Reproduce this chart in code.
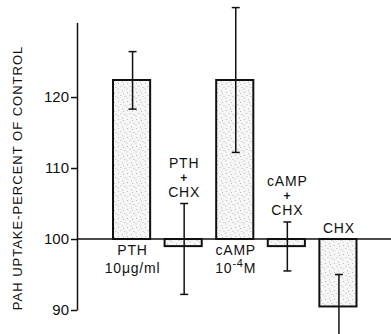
<!DOCTYPE html>
<html>
<head>
<meta charset="utf-8">
<script src="https://cdn.jsdelivr.net/npm/d3@7"></script>
<style>
  body { margin: 0; background: #fff; }
  svg text { font-family: 'Liberation Sans', Arial, sans-serif; fill: #111; }
</style>
</head>
<body>
<svg id="chart"></svg>
<script>
const width = 391,
  height = 334;

// data (percent of control)
const categories = ['PTH', 'PTH+CHX', 'cAMP', 'cAMP+CHX', 'CHX'];
const means = [122.4, 99.0, 122.4, 99.0, 90.5];
const errLow = [118.3, 92.2, 112.2, 95.5, 86];
const errHigh = [126.4, 105, 132.6, 102.4, 95];
const yTicks = [90, 100, 110, 120];
const labelsBelow = [['PTH', '10\u03bcg/ml'], null, ['cAMP', '10-4M'], null, null];
const labelsAbove = [null, ['PTH', '+', 'CHX'], null, ['cAMP', '+', 'CHX'], ['CHX']];

const svg = d3
  .select('#chart')
  .attr('width', width)
  .attr('height', height);

const yScale = d3
  .scaleLinear()
  .domain([90, 130.5])
  .range([310, 22.5]);

const xScale = d3
  .scaleBand()
  .domain(categories)
  .range([113, 356.5])
  .paddingInner(0.28)
  .paddingOuter(0);

// stipple fill
const pat = svg
  .append('defs')
  .append('pattern')
  .attr('id', 'stipple')
  .attr('patternUnits', 'userSpaceOnUse')
  .attr('width', 9)
  .attr('height', 9);
pat.append('rect').attr('width', 9).attr('height', 9).attr('fill', '#f6f6f6');
[[1, 2], [5, 0.5], [3.5, 5], [7.5, 6], [0.5, 7.5], [6, 3]].forEach(p => {
  pat
    .append('rect')
    .attr('x', p[0])
    .attr('y', p[1])
    .attr('width', 0.9)
    .attr('height', 0.9)
    .attr('fill', '#aaa');
});

const axisX = 77;

// y axis
svg
  .append('g')
  .attr('class', 'y-axis')
  .attr('transform', `translate(${axisX},0)`)
  .call(
    d3
      .axisLeft(yScale)
      .tickValues(yTicks)
      .tickSize(6)
      .tickSizeOuter(0)
      .tickPadding(2)
  )
  .call(g => g.selectAll('path, line').attr('stroke', '#111').attr('stroke-width', 1.5))
  .call(g =>
    g
      .selectAll('text')
      .attr('font-size', 15)
      .attr('fill', '#111')
      .style('font-family', "'Liberation Sans', Arial, sans-serif")
  );

svg
  .append('text')
  .attr('transform', `translate(22,${178}) rotate(-90)`)
  .attr('text-anchor', 'middle')
  .attr('font-size', 13)
  .attr('letter-spacing', 1)
  .text('PAH UPTAKE-PERCENT OF CONTROL');

// bars
svg
  .selectAll('.bar')
  .data(categories)
  .enter()
  .append('rect')
  .attr('class', 'bar')
  .attr('x', d => xScale(d))
  .attr('width', xScale.bandwidth())
  .attr('y', (d, i) => yScale(Math.max(means[i], 100)))
  .attr('height', (d, i) => Math.abs(yScale(means[i]) - yScale(100)))
  .attr('fill', 'url(#stipple)')
  .attr('stroke', '#111')
  .attr('stroke-width', 2);

// baseline at 100
svg
  .append('line')
  .attr('x1', axisX)
  .attr('x2', width)
  .attr('y1', yScale(100))
  .attr('y2', yScale(100))
  .attr('stroke', '#111')
  .attr('stroke-width', 1.6);

// error bars
const cx = d => xScale(d) + xScale.bandwidth() / 2 + 1;
const err = svg
  .selectAll('.err')
  .data(categories)
  .enter()
  .append('g')
  .attr('class', 'err')
  .attr('stroke', '#111')
  .attr('stroke-width', 1.5);
err
  .append('line')
  .attr('x1', cx)
  .attr('x2', cx)
  .attr('y1', (d, i) => yScale(errLow[i]))
  .attr('y2', (d, i) => yScale(errHigh[i]));
[errLow, errHigh].forEach(arr => {
  err
    .append('line')
    .attr('x1', d => cx(d) - 4)
    .attr('x2', d => cx(d) + 4)
    .attr('y1', (d, i) => yScale(arr[i]))
    .attr('y2', (d, i) => yScale(arr[i]));
});

// labels under the baseline
categories.forEach((c, i) => {
  const lines = labelsBelow[i];
  if (!lines) return;
  lines.forEach((s, j) => {
    const t = svg
      .append('text')
      .attr('x', cx(c))
      .attr('y', yScale(100) + 16 + j * 18)
      .attr('text-anchor', 'middle')
      .attr('font-size', 14)
      .attr('letter-spacing', 0.8);
    if (s === '10-4M') {
      t.append('tspan').text('10');
      t.append('tspan').attr('dy', -6).attr('font-size', 11).text('-4');
      t.append('tspan').attr('dy', 6).text('M');
    } else {
      t.text(s);
    }
  });
});

// labels above error bars
categories.forEach((c, i) => {
  const lines = labelsAbove[i];
  if (!lines) return;
  const base = lines.length === 1 ? yScale(100) - 6 : yScale(errHigh[i]) - 7;
  lines
    .slice()
    .reverse()
    .forEach((s, j) => {
      svg
        .append('text')
        .attr('x', cx(c))
        .attr('y', base - j * 14.5)
        .attr('text-anchor', 'middle')
        .attr('font-size', s === '+' ? 12 : 14)
        .attr('font-weight', s === '+' ? 'bold' : 'normal')
        .attr('letter-spacing', 0.8)
        .text(s);
    });
});
</script>
</body>
</html>
